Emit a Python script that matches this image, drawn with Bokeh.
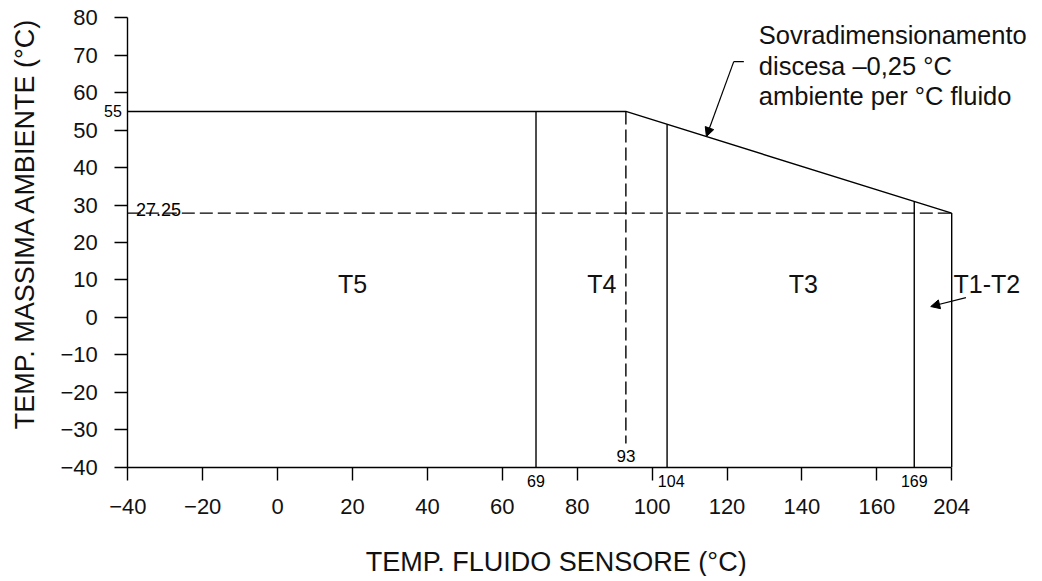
import numpy as np
from bokeh.plotting import figure
from bokeh.models import FixedTicker, Label, Arrow, NormalHead, Range1d, LinearAxis
from bokeh.embed import file_html
from bokeh.resources import INLINE

# ---------------- data ----------------
x_ticks = [-40, -20, 0, 20, 40, 60, 80, 100, 120, 140, 160, 180]
x_tick_labels = ["−40", "−20", "0", "20", "40", "60", "80", "100", "120", "140", "160", "204"]
y_ticks = [-40, -30, -20, -10, 0, 10, 20, 30, 40, 50, 60, 70, 80]
y_tick_labels = ["−40", "−30", "−20", "−10", "0", "10", "20", "30", "40", "50", "60", "70", "80"]

# limit curve (max ambient vs fluid temperature), drawn positions on the axis
curve_x = [-40, 93, 180]
curve_y = [55, 55, 27.85]
curve_labels = ["55", "93", "27.25"]

# class boundaries
zone_x = [69, 104, 170]
zone_labels = ["69", "104", "169"]
zone_names = ["T5", "T4", "T3", "T1-T2"]
zone_name_x = [20, 86.6, 140.4, 189.4]
zone_name_y = 8.8
dash_bottom = -33.7

FONT = "Liberation Sans"
BLACK = "#000000"
LW = 1.4

W, H = 1040, 576
PX = 3.745                      # pixels per degree on both axes
x0 = x_ticks[0] - 127.3 / PX
y1 = y_ticks[-1] + 17.3 / PX

p = figure(width=W, height=H, output_backend="svg", toolbar_location=None,
           x_range=Range1d(x0, x0 + W / PX), y_range=Range1d(y1 - H / PX, y1),
           x_axis_location=None, y_axis_location=None,
           min_border=0, min_border_left=0, min_border_right=0,
           min_border_top=0, min_border_bottom=0,
           outline_line_color=None, background_fill_color="white")
p.grid.visible = False

xax = LinearAxis(fixed_location=y_ticks[0], bounds=(x_ticks[0], x_ticks[-1]))
yax = LinearAxis(fixed_location=x_ticks[0], bounds=(y_ticks[0], y_ticks[-1]))
p.add_layout(xax, "below")
p.add_layout(yax, "left")

for ax, ticks, labels, standoff in ((xax, x_ticks, x_tick_labels, 19),
                                    (yax, y_ticks, y_tick_labels, 17)):
    ax.ticker = FixedTicker(ticks=ticks)
    ax.major_label_overrides = dict(zip(ticks, labels))
    ax.minor_tick_line_color = None
    ax.major_tick_out = 13
    ax.major_tick_in = 0
    ax.axis_line_color = BLACK
    ax.axis_line_width = LW
    ax.major_tick_line_color = BLACK
    ax.major_tick_line_width = LW
    ax.major_label_text_font = FONT
    ax.major_label_text_font_size = "22px"
    ax.major_label_text_color = "#111111"
    ax.major_label_standoff = standoff

# limit curve
p.line(curve_x, curve_y, line_color=BLACK, line_width=LW)
# right edge
p.segment(x0=[curve_x[-1]], y0=[curve_y[-1]], x1=[curve_x[-1]], y1=[y_ticks[0]],
          line_color=BLACK, line_width=LW)
# zone boundaries up to the curve
tops = np.interp(zone_x, curve_x, curve_y)
p.segment(x0=zone_x, y0=[y_ticks[0]] * len(zone_x), x1=zone_x, y1=list(tops),
          line_color=BLACK, line_width=LW)
# dashed reference lines
p.segment(x0=[x_ticks[0]], y0=[curve_y[-1]], x1=[curve_x[-1]], y1=[curve_y[-1]],
          line_color=BLACK, line_width=LW, line_dash="13 5")
p.segment(x0=[curve_x[1]], y0=[curve_y[1]], x1=[curve_x[1]], y1=[dash_bottom],
          line_color=BLACK, line_width=LW, line_dash="13 5")

# small value labels
p.add_layout(Label(x=-41.6, y=curve_y[0], text=curve_labels[0], text_align="right",
                   text_baseline="middle", text_font=FONT, text_font_size="16px", text_color=BLACK))
p.add_layout(Label(x=-37.8, y=28.8, text=curve_labels[2], text_align="left",
                   text_baseline="alphabetic", text_font=FONT, text_font_size="18px", text_color=BLACK))
p.add_layout(Label(x=curve_x[1], y=-36.9, text=curve_labels[1], text_align="center",
                   text_baseline="middle", text_font=FONT, text_font_size="17px", text_color=BLACK))
for zx, zl in zip(zone_x, zone_labels):
    off = 1.1 if zl == "104" else 0
    p.add_layout(Label(x=zx + off, y=-43.6, text=zl, text_align="center",
                       text_baseline="middle", text_font=FONT, text_font_size="16px",
                       text_color=BLACK))

# zone names
for zx, zn in zip(zone_name_x, zone_names):
    p.add_layout(Label(x=zx, y=zone_name_y, text=zn, text_align="center",
                       text_baseline="middle", text_font=FONT, text_font_size="25px",
                       text_color="#111111"))

# T1-T2 pointer
p.add_layout(Arrow(end=NormalHead(size=9, fill_color=BLACK, line_color=BLACK),
                   x_start=183.8, y_start=5.3, x_end=174.4, y_end=2.9,
                   line_color=BLACK, line_width=1.2))

# slope annotation
tip_x = 114.5
tip_y = float(np.interp(tip_x, curve_x, curve_y))
p.line([124.5, 121.8], [68.3, 68.3], line_color=BLACK, line_width=1.2)
p.add_layout(Arrow(end=NormalHead(size=9, fill_color=BLACK, line_color=BLACK),
                   x_start=121.8, y_start=68.3, x_end=tip_x, y_end=tip_y,
                   line_color=BLACK, line_width=1.2))
note_lines = ["Sovradimensionamento", "discesa –0,25 °C", "ambiente per °C fluido"]
for txt, yy in zip(note_lines, [75.3, 67.1, 59.0]):
    p.add_layout(Label(x=128.5, y=yy, text=txt, text_align="left", text_baseline="alphabetic",
                       text_font=FONT, text_font_size="25.5px", text_color="#111111"))

# axis titles
p.add_layout(Label(x=-67.5, y=25.2, text="TEMP. MASSIMA AMBIENTE (°C)", angle=np.pi / 2,
                   text_align="center", text_baseline="middle", text_font=FONT,
                   text_font_size="27px", text_color="#111111"))
p.add_layout(Label(x=74.4, y=-65.3, text="TEMP. FLUIDO SENSORE (°C)",
                   text_align="center", text_baseline="middle", text_font=FONT,
                   text_font_size="27px", text_color="#111111"))

open("out.html", "w").write(file_html(p, INLINE))
